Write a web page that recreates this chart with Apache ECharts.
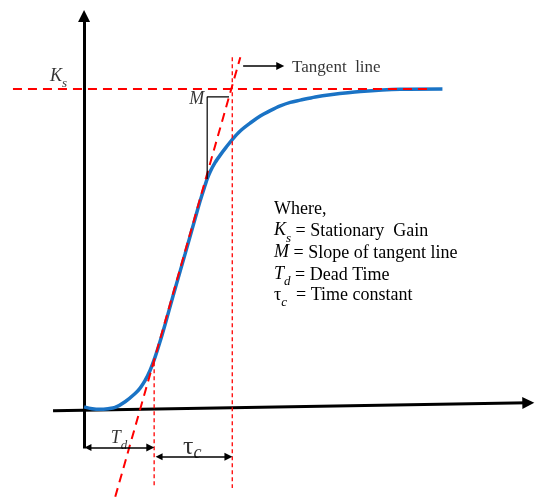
<!DOCTYPE html>
<html>
<head>
<meta charset="utf-8">
<script src="https://cdn.jsdelivr.net/npm/echarts@6/dist/echarts.min.js"></script>
<style>
  html, body { margin: 0; padding: 0; background: #ffffff; }
  #chart { width: 536px; height: 499px; }
</style>
</head>
<body>
<div id="chart"></div>
<script>
// Step response of a first-order-plus-dead-time process (normalised output)
const timeValues = [0, 0.229, 0.457, 0.686, 0.886, 1.171, 1.457, 1.6, 1.743, 1.886, 2.029, 2.171, 2.314, 2.543, 2.886,
  3.171, 3.314, 3.457, 3.514, 3.6, 3.743, 3.886, 4.057, 4.229, 4.457, 4.743, 5.029, 5.314, 5.6, 5.886, 6.171, 6.6,
  7.029, 7.886, 9.029, 10.229];
const responseValues = [0, -0.006, -0.008, -0.006, -0.002, 0.016, 0.042, 0.059, 0.083, 0.115, 0.157, 0.206, 0.260, 0.350, 0.482,
  0.593, 0.648, 0.698, 0.717, 0.740, 0.769, 0.792, 0.817, 0.841, 0.868, 0.893, 0.915, 0.932, 0.947, 0.958, 0.965, 0.975,
  0.982, 0.992, 0.999, 1.0];

// Characteristic values
const stationaryGain = 1.0;   // K_s
const deadTime = 2.0;         // T_d
const timeConstant = 2.23;    // tau_c

// Tangent line through the inflection region (end points)
const tangentTimes = [0.89, 4.46];
const tangentResponses = [-0.283, 1.10];

// Slope triangle: foot on the curve and top level
const slopeFootTime = 3.514;
const slopeFootResponse = 0.717;
const slopeTopResponse = 0.975;

// Legend text on the right
const legendLines = [
  'Where,',
  '{i|K}{sub|s} = Stationary  Gain',
  '{i|M} = Slope of tangent line',
  '{i|T}{sub|d} = Dead Time',
  'τ{sub|c}  = Time constant'
];

const serif = '"Liberation Serif", "DejaVu Serif", serif';
const red = '#ff0000';
const blue = '#1a73c5';
const ink = '#000';

const tangentSlope = (tangentResponses[1] - tangentResponses[0]) / (tangentTimes[1] - tangentTimes[0]);
const tangentTimeAt = r => tangentTimes[0] + (r - tangentResponses[0]) / tangentSlope;

const richMath = {
  i:    { fontFamily: serif, fontStyle: 'italic', fontSize: 18, color: ink, lineHeight: 20, verticalAlign: 'top' },
  sub:  { fontFamily: serif, fontStyle: 'italic', fontSize: 13, color: ink, lineHeight: 13, padding: [10, 0, 0, 0], verticalAlign: 'top' },
  big:  { fontFamily: serif, fontSize: 26, color: ink, lineHeight: 26, verticalAlign: 'top' },
  bsub: { fontFamily: serif, fontStyle: 'italic', fontSize: 18, color: ink, lineHeight: 18, padding: [11, 0, 0, 0], verticalAlign: 'top' }
};

const curve = timeValues.map((t, i) => [t, responseValues[i]]);
const markerBottom = -0.255;
const arrowLevelTd = -0.128;
const arrowLevelTau = -0.157;
const tangentArrowLevel = 1.072;
const headInset = 0.11;  // half an arrow head, in time units

const chart = echarts.init(document.getElementById('chart'), null, { renderer: 'canvas' });

chart.setOption({
  animation: false,
  backgroundColor: '#ffffff',
  grid: { left: 0, right: 0, top: 0, bottom: 0 },
  xAxis: { type: 'value', min: -2.4, max: 12.9, show: false },
  yAxis: { type: 'value', min: -0.29, max: 1.28, show: false },
  series: [
    {
      // axes with arrow heads
      type: 'lines',
      coordinateSystem: 'cartesian2d',
      symbol: ['none', 'triangle'],
      symbolSize: [10, 12],
      lineStyle: { color: ink, width: 3, opacity: 1 },
      z: 3,
      data: [
        { coords: [[0, arrowLevelTd - 0.003], [0, 1.23]] },
        { coords: [[-0.886, -0.0126], [12.68, 0.0126]] }
      ]
    },
    {
      // response curve
      type: 'line',
      data: curve,
      smooth: 0.3,
      showSymbol: false,
      symbol: 'none',
      lineStyle: { color: blue, width: 3.5 },
      z: 4
    },
    {
      // stationary gain level
      type: 'line',
      data: [[-2.03, stationaryGain], [9.8, stationaryGain]],
      showSymbol: false, symbol: 'none',
      lineStyle: { color: red, width: 2, type: [9, 6] },
      z: 5
    },
    {
      // tangent line
      type: 'line',
      data: tangentTimes.map((t, i) => [t, tangentResponses[i]]),
      showSymbol: false, symbol: 'none',
      lineStyle: { color: red, width: 2, type: [9, 6] },
      z: 5
    },
    {
      // dead time marker
      type: 'line',
      data: [[deadTime, 0.14], [deadTime, markerBottom]],
      showSymbol: false, symbol: 'none',
      lineStyle: { color: red, width: 1.3, type: [4, 3] },
      z: 5
    },
    {
      // end of time constant marker
      type: 'line',
      data: [[deadTime + timeConstant, 1.10], [deadTime + timeConstant, markerBottom]],
      showSymbol: false, symbol: 'none',
      lineStyle: { color: red, width: 1.3, type: [4, 3] },
      z: 5
    },
    {
      // slope triangle
      type: 'line',
      data: [[slopeFootTime, slopeFootResponse], [slopeFootTime, slopeTopResponse], [tangentTimeAt(slopeTopResponse), slopeTopResponse]],
      showSymbol: false, symbol: 'none',
      lineStyle: { color: ink, width: 1.2 },
      z: 5
    },
    {
      // dimension arrows for T_d and tau_c
      type: 'lines',
      coordinateSystem: 'cartesian2d',
      symbol: ['triangle', 'triangle'],
      symbolSize: [7, 8],
      lineStyle: { color: ink, width: 1.5, opacity: 1 },
      z: 6,
      data: [
        { coords: [[headInset, arrowLevelTd], [deadTime - headInset, arrowLevelTd]] },
        { coords: [[deadTime + 0.03 + headInset, arrowLevelTau], [deadTime + timeConstant - headInset, arrowLevelTau]] }
      ]
    },
    {
      // pointer to the tangent line caption
      type: 'lines',
      coordinateSystem: 'cartesian2d',
      symbol: ['none', 'triangle'],
      symbolSize: [7, 8],
      lineStyle: { color: ink, width: 1.5, opacity: 1 },
      z: 6,
      data: [ { coords: [[4.54, tangentArrowLevel], [5.71 - headInset, tangentArrowLevel]] } ]
    },
    {
      // text labels anchored to the drawing
      type: 'scatter',
      symbolSize: 0,
      silent: true,
      z: 7,
      data: [
        { value: [0, stationaryGain], label: { show: true, position: 'left', distance: 5, offset: [-12, -12], formatter: '{i|K}{sub|s}', rich: richMath } },
        { value: [slopeFootTime, slopeTopResponse], label: { show: true, position: 'left', distance: 3, offset: [0, 3], formatter: '{i|M}', rich: richMath } },
        { value: [deadTime / 2, arrowLevelTd], label: { show: true, position: 'top', distance: 0, offset: [0, 2], formatter: '{i|T}{sub|d}', rich: richMath } },
        { value: [deadTime + timeConstant / 2, arrowLevelTau], label: { show: true, position: 'top', distance: 0, offset: [-1, 3], formatter: '{big|τ}{bsub|c}', rich: richMath } },
        { value: [5.71, tangentArrowLevel], label: { show: true, position: 'right', distance: 8, offset: [0, 1], formatter: 'Tangent  line', fontFamily: serif, fontSize: 17, color: ink } }
      ]
    }
  ],
  graphic: legendLines.map((line, i) => ({
    type: 'text',
    left: 274,
    top: 200 + i * 21.6,
    silent: true,
    style: {
      text: line,
      fontFamily: serif,
      fontSize: 18,
      fill: ink,
      rich: {
        i:   { fontFamily: serif, fontStyle: 'italic', fontSize: 18, fill: ink, lineHeight: 20, verticalAlign: 'top' },
        sub: { fontFamily: serif, fontStyle: 'italic', fontSize: 13, fill: ink, lineHeight: 13, padding: [10, 0, 0, 0], verticalAlign: 'top' }
      }
    }
  }))
});
</script>
</body>
</html>
